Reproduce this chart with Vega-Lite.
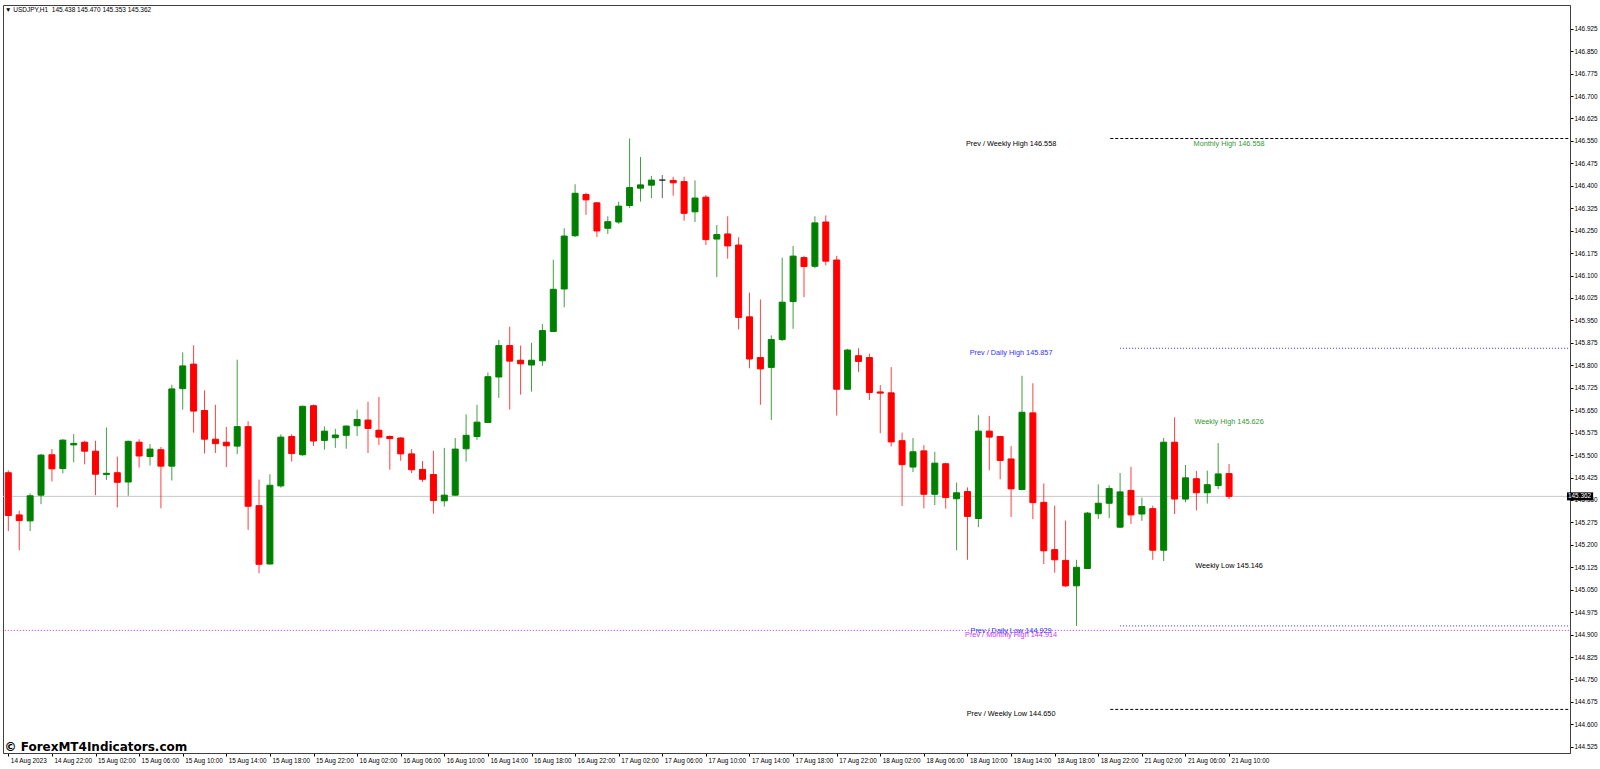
{
  "$schema": "https://vega.github.io/schema/vega-lite/v6.json",
  "width": 1567,
  "height": 748,
  "autosize": {"type": "none"},
  "padding": {"left": 3, "top": 5, "right": 30, "bottom": 16},
  "background": "#ffffff",
  "config": {"view": {"stroke": "#404040", "strokeWidth": 1}},
  "title": {"text": "▼ USDJPY,H1\u00a0 145.438 145.470 145.353 145.362", "anchor": "start", "frame": "group", "offset": -8, "dx": 2, "font": "Liberation Sans", "fontSize": 6.5, "fontWeight": "normal", "color": "#000000"},
  "datasets": {
    "candles": [
      {"t":0,"o":145.441,"h":145.449,"l":145.246,"c":145.298},
      {"t":1,"o":145.300,"h":145.314,"l":145.182,"c":145.281},
      {"t":2,"o":145.280,"h":145.372,"l":145.246,"c":145.364},
      {"t":3,"o":145.366,"h":145.504,"l":145.336,"c":145.500},
      {"t":4,"o":145.501,"h":145.520,"l":145.412,"c":145.454},
      {"t":5,"o":145.455,"h":145.553,"l":145.439,"c":145.550},
      {"t":6,"o":145.534,"h":145.570,"l":145.476,"c":145.539},
      {"t":7,"o":145.543,"h":145.548,"l":145.469,"c":145.513},
      {"t":8,"o":145.513,"h":145.548,"l":145.366,"c":145.436},
      {"t":9,"o":145.435,"h":145.592,"l":145.417,"c":145.439},
      {"t":10,"o":145.441,"h":145.495,"l":145.325,"c":145.409},
      {"t":11,"o":145.410,"h":145.548,"l":145.364,"c":145.546},
      {"t":12,"o":145.543,"h":145.553,"l":145.458,"c":145.497},
      {"t":13,"o":145.495,"h":145.537,"l":145.465,"c":145.520},
      {"t":14,"o":145.518,"h":145.527,"l":145.322,"c":145.463},
      {"t":15,"o":145.463,"h":145.735,"l":145.415,"c":145.721},
      {"t":16,"o":145.722,"h":145.843,"l":145.652,"c":145.798},
      {"t":17,"o":145.804,"h":145.867,"l":145.575,"c":145.647},
      {"t":18,"o":145.649,"h":145.716,"l":145.505,"c":145.553},
      {"t":19,"o":145.553,"h":145.668,"l":145.507,"c":145.538},
      {"t":20,"o":145.543,"h":145.594,"l":145.460,"c":145.531},
      {"t":21,"o":145.530,"h":145.819,"l":145.503,"c":145.595},
      {"t":22,"o":145.595,"h":145.613,"l":145.250,"c":145.329},
      {"t":23,"o":145.331,"h":145.418,"l":145.105,"c":145.135},
      {"t":24,"o":145.136,"h":145.436,"l":145.134,"c":145.399},
      {"t":25,"o":145.397,"h":145.569,"l":145.391,"c":145.560},
      {"t":26,"o":145.562,"h":145.570,"l":145.478,"c":145.505},
      {"t":27,"o":145.501,"h":145.665,"l":145.498,"c":145.663},
      {"t":28,"o":145.665,"h":145.669,"l":145.530,"c":145.547},
      {"t":29,"o":145.549,"h":145.596,"l":145.518,"c":145.580},
      {"t":30,"o":145.558,"h":145.588,"l":145.524,"c":145.567},
      {"t":31,"o":145.566,"h":145.599,"l":145.521,"c":145.597},
      {"t":32,"o":145.598,"h":145.652,"l":145.564,"c":145.619},
      {"t":33,"o":145.617,"h":145.678,"l":145.507,"c":145.589},
      {"t":34,"o":145.583,"h":145.694,"l":145.534,"c":145.560},
      {"t":35,"o":145.562,"h":145.566,"l":145.451,"c":145.555},
      {"t":36,"o":145.557,"h":145.560,"l":145.481,"c":145.504},
      {"t":37,"o":145.504,"h":145.520,"l":145.440,"c":145.451},
      {"t":38,"o":145.452,"h":145.480,"l":145.410,"c":145.419},
      {"t":39,"o":145.435,"h":145.514,"l":145.304,"c":145.348},
      {"t":40,"o":145.347,"h":145.524,"l":145.328,"c":145.366},
      {"t":41,"o":145.366,"h":145.557,"l":145.364,"c":145.520},
      {"t":42,"o":145.521,"h":145.636,"l":145.478,"c":145.566},
      {"t":43,"o":145.562,"h":145.668,"l":145.551,"c":145.610},
      {"t":44,"o":145.609,"h":145.776,"l":145.608,"c":145.762},
      {"t":45,"o":145.761,"h":145.885,"l":145.691,"c":145.866},
      {"t":46,"o":145.866,"h":145.929,"l":145.652,"c":145.814},
      {"t":47,"o":145.817,"h":145.866,"l":145.702,"c":145.805},
      {"t":48,"o":145.801,"h":145.875,"l":145.712,"c":145.817},
      {"t":49,"o":145.815,"h":145.938,"l":145.798,"c":145.916},
      {"t":50,"o":145.913,"h":146.153,"l":145.912,"c":146.054},
      {"t":51,"o":146.055,"h":146.258,"l":145.994,"c":146.232},
      {"t":52,"o":146.233,"h":146.405,"l":146.229,"c":146.375},
      {"t":53,"o":146.371,"h":146.377,"l":146.303,"c":146.353},
      {"t":54,"o":146.343,"h":146.346,"l":146.229,"c":146.249},
      {"t":55,"o":146.258,"h":146.298,"l":146.239,"c":146.280},
      {"t":56,"o":146.279,"h":146.347,"l":146.273,"c":146.332},
      {"t":57,"o":146.334,"h":146.558,"l":146.326,"c":146.394},
      {"t":58,"o":146.392,"h":146.496,"l":146.347,"c":146.403},
      {"t":59,"o":146.402,"h":146.433,"l":146.359,"c":146.419},
      {"t":60,"o":146.419,"h":146.436,"l":146.359,"c":146.419},
      {"t":61,"o":146.418,"h":146.430,"l":146.367,"c":146.410},
      {"t":62,"o":146.414,"h":146.430,"l":146.283,"c":146.308},
      {"t":63,"o":146.313,"h":146.418,"l":146.279,"c":146.359},
      {"t":64,"o":146.362,"h":146.369,"l":146.202,"c":146.220},
      {"t":65,"o":146.222,"h":146.269,"l":146.095,"c":146.237},
      {"t":66,"o":146.239,"h":146.298,"l":146.156,"c":146.199},
      {"t":67,"o":146.202,"h":146.228,"l":145.920,"c":145.960},
      {"t":68,"o":145.962,"h":146.043,"l":145.790,"c":145.821},
      {"t":69,"o":145.826,"h":146.020,"l":145.668,"c":145.788},
      {"t":70,"o":145.793,"h":145.900,"l":145.617,"c":145.886},
      {"t":71,"o":145.886,"h":146.160,"l":145.881,"c":146.011},
      {"t":72,"o":146.013,"h":146.199,"l":145.922,"c":146.165},
      {"t":73,"o":146.160,"h":146.166,"l":146.028,"c":146.130},
      {"t":74,"o":146.131,"h":146.298,"l":146.125,"c":146.276},
      {"t":75,"o":146.279,"h":146.301,"l":146.134,"c":146.148},
      {"t":76,"o":146.152,"h":146.166,"l":145.632,"c":145.720},
      {"t":77,"o":145.720,"h":145.855,"l":145.719,"c":145.851},
      {"t":78,"o":145.832,"h":145.857,"l":145.778,"c":145.813},
      {"t":79,"o":145.826,"h":145.839,"l":145.684,"c":145.709},
      {"t":80,"o":145.711,"h":145.734,"l":145.573,"c":145.707},
      {"t":81,"o":145.708,"h":145.794,"l":145.529,"c":145.544},
      {"t":82,"o":145.548,"h":145.575,"l":145.330,"c":145.468},
      {"t":83,"o":145.460,"h":145.557,"l":145.443,"c":145.511},
      {"t":84,"o":145.514,"h":145.533,"l":145.322,"c":145.369},
      {"t":85,"o":145.369,"h":145.511,"l":145.333,"c":145.473},
      {"t":86,"o":145.471,"h":145.474,"l":145.321,"c":145.358},
      {"t":87,"o":145.354,"h":145.408,"l":145.182,"c":145.374},
      {"t":88,"o":145.378,"h":145.392,"l":145.150,"c":145.295},
      {"t":89,"o":145.288,"h":145.633,"l":145.259,"c":145.580},
      {"t":90,"o":145.580,"h":145.631,"l":145.449,"c":145.560},
      {"t":91,"o":145.562,"h":145.564,"l":145.419,"c":145.482},
      {"t":92,"o":145.487,"h":145.530,"l":145.293,"c":145.387},
      {"t":93,"o":145.385,"h":145.765,"l":145.382,"c":145.643},
      {"t":94,"o":145.641,"h":145.740,"l":145.286,"c":145.341},
      {"t":95,"o":145.342,"h":145.405,"l":145.136,"c":145.180},
      {"t":96,"o":145.184,"h":145.331,"l":145.107,"c":145.150},
      {"t":97,"o":145.148,"h":145.281,"l":145.059,"c":145.063},
      {"t":98,"o":145.063,"h":145.150,"l":144.929,"c":145.125},
      {"t":99,"o":145.121,"h":145.310,"l":145.120,"c":145.306},
      {"t":100,"o":145.304,"h":145.402,"l":145.286,"c":145.339},
      {"t":101,"o":145.339,"h":145.399,"l":145.289,"c":145.388},
      {"t":102,"o":145.259,"h":145.440,"l":145.257,"c":145.377},
      {"t":103,"o":145.382,"h":145.461,"l":145.270,"c":145.300},
      {"t":104,"o":145.303,"h":145.358,"l":145.280,"c":145.328},
      {"t":105,"o":145.321,"h":145.331,"l":145.150,"c":145.182},
      {"t":106,"o":145.182,"h":145.557,"l":145.146,"c":145.543},
      {"t":107,"o":145.543,"h":145.626,"l":145.303,"c":145.353},
      {"t":108,"o":145.353,"h":145.467,"l":145.342,"c":145.424},
      {"t":109,"o":145.421,"h":145.447,"l":145.315,"c":145.374},
      {"t":110,"o":145.374,"h":145.448,"l":145.338,"c":145.401},
      {"t":111,"o":145.398,"h":145.540,"l":145.386,"c":145.437},
      {"t":112,"o":145.438,"h":145.470,"l":145.353,"c":145.362}
    ],
    "levels": [
      {"kind":"Bid","price":145.362,"t":-5,"t2":150},
      {"kind":"Prev Monthly","price":144.914,"t":-5,"t2":150},
      {"kind":"Prev Weekly","price":146.558,"t":101.1,"t2":150},
      {"kind":"Prev Weekly","price":144.650,"t":101.1,"t2":150},
      {"kind":"Prev Daily","price":145.857,"t":102,"t2":150},
      {"kind":"Prev Daily","price":144.929,"t":102,"t2":150}
    ],
    "labels": [
      {"kind":"Prev Weekly","text":"Prev / Weekly High 146.558","price":146.558,"t":92},
      {"kind":"Current High","text":"Monthly High 146.558","price":146.558,"t":112},
      {"kind":"Prev Daily","text":"Prev / Daily High 145.857","price":145.857,"t":92},
      {"kind":"Current High","text":"Weekly High 145.626","price":145.626,"t":112},
      {"kind":"Current Low","text":"Weekly Low 145.146","price":145.146,"t":112},
      {"kind":"Prev Monthly","text":"Prev / Monthly High 144.914","price":144.914,"t":92},
      {"kind":"Prev Daily","text":"Prev / Daily Low 144.929","price":144.929,"t":92},
      {"kind":"Prev Weekly","text":"Prev / Weekly Low 144.650","price":144.650,"t":92}
    ]
  },
  "layer": [
    {
      "data": {"name": "levels"},
      "mark": {"type": "rule", "strokeWidth": 1, "clip": true},
      "encoding": {
        "x": {"field": "t", "type": "quantitative", "scale": {"domain": [-0.03, 142.82], "nice": false, "zero": false},
          "axis": {"values": [0,4,8,12,16,20,24,28,32,36,40,44,48,52,56,60,64,68,72,76,80,84,88,92,96,100,104,108,112],
            "tickCount": 60,
            "labelExpr": "datum.value == 0 ? '14 Aug 2023' : ((datum.value < 102 ? ((14 + floor((datum.value + 18) / 24)) + ' Aug ' + (((datum.value + 18) % 24) < 10 ? '0' : '') + ((datum.value + 18) % 24)) : ('21 Aug ' + ((datum.value - 102) < 10 ? '0' : '') + (datum.value - 102))) + ':00')",
            "title": "© ForexMT4Indicators.com", "grid": false, "tickSize": 3, "tickColor": "#000000", "domainColor": "#404040",
            "labelAlign": "left", "labelBaseline": "top", "labelOffset": 2, "labelPadding": 1, "labelFont": "Liberation Sans", "labelFontSize": 6.4, "labelColor": "#000000",
            "labelOverlap": false, "labelFlush": false, "labelBound": false,
            "titleFont": "DejaVu Sans", "titleFontSize": 12, "titleFontWeight": "bold", "titleColor": "#000000", "titleAnchor": "start", "titleAlign": "left", "titleBaseline": "middle", "titleX": 1, "titleY": -7}},
        "x2": {"field": "t2"},
        "y": {"field": "price", "type": "quantitative", "scale": {"domain": [144.521, 146.9875], "nice": false, "zero": false},
          "axis": {"orient": "right", "values": [146.925,146.85,146.775,146.7,146.625,146.55,146.475,146.4,146.325,146.25,146.175,146.1,146.025,145.95,145.875,145.8,145.725,145.65,145.575,145.5,145.425,145.35,145.275,145.2,145.125,145.05,144.975,144.9,144.825,144.75,144.675,144.6,144.525],
            "tickCount": 60,
            "format": ".3f", "title": null, "grid": false, "tickSize": 3, "tickColor": "#000000", "domainColor": "#404040", "labelPadding": 1,
            "labelFont": "Liberation Sans", "labelFontSize": 6.4, "labelColor": "#000000", "labelOverlap": false, "labelFlush": false, "labelBound": false}},
        "color": {"field": "kind", "type": "nominal", "legend": null,
          "scale": {"domain": ["Prev Weekly","Prev Daily","Prev Monthly","Bid","Current High","Current Low"], "range": ["#000000","#3333ff","#cc33ff","#c0c0c0","#339933","#000000"]}},
        "strokeDash": {"field": "kind", "type": "nominal", "legend": null,
          "scale": {"domain": ["Prev Weekly","Prev Daily","Prev Monthly","Bid"], "range": [[3,2],[1,2],[1,2],[1,0]]}}
      }
    },
    {
      "data": {"name": "candles"},
      "mark": {"type": "rule", "strokeWidth": 1, "opacity": 0.75, "clip": true},
      "encoding": {
        "x": {"field": "t", "type": "quantitative", "scale": {"domain": [-0.03, 142.82], "nice": false, "zero": false}},
        "y": {"field": "l", "type": "quantitative", "scale": {"domain": [144.521, 146.9875], "nice": false, "zero": false}},
        "y2": {"field": "h"},
        "stroke": {"condition": [{"test": "datum.c > datum.o", "value": "#008000"}, {"test": "datum.c == datum.o", "value": "#303030"}], "value": "#ff0000"}
      }
    },
    {
      "data": {"name": "candles"},
      "mark": {"type": "bar", "width": 6, "strokeWidth": 1, "clip": true},
      "encoding": {
        "x": {"field": "t", "type": "quantitative", "scale": {"domain": [-0.03, 142.82], "nice": false, "zero": false}},
        "y": {"field": "o", "type": "quantitative", "scale": {"domain": [144.521, 146.9875], "nice": false, "zero": false}},
        "y2": {"field": "c"},
        "fill": {"condition": [{"test": "datum.c > datum.o", "value": "#008000"}, {"test": "datum.c == datum.o", "value": "#303030"}], "value": "#ff0000"},
        "stroke": {"condition": [{"test": "datum.c > datum.o", "value": "#008000"}, {"test": "datum.c == datum.o", "value": "#303030"}], "value": "#ff0000"}
      }
    },
    {
      "data": {"name": "labels"},
      "mark": {"type": "text", "align": "center", "baseline": "top", "dy": 1, "font": "Liberation Sans", "fontSize": 7.3},
      "encoding": {
        "x": {"field": "t", "type": "quantitative", "scale": {"domain": [-0.03, 142.82], "nice": false, "zero": false}},
        "y": {"field": "price", "type": "quantitative", "scale": {"domain": [144.521, 146.9875], "nice": false, "zero": false}},
        "text": {"field": "text"},
        "color": {"field": "kind", "type": "nominal", "legend": null,
          "scale": {"domain": ["Prev Weekly","Prev Daily","Prev Monthly","Bid","Current High","Current Low"], "range": ["#000000","#3333ff","#cc33ff","#c0c0c0","#339933","#000000"]}}
      }
    },
    {
      "data": {"name": "levels"},
      "transform": [{"filter": "datum.kind == 'Bid'"}],
      "mark": {"type": "bar", "orient": "horizontal", "size": 8, "color": "#000000"},
      "encoding": {
        "x": {"datum": 143.0, "type": "quantitative", "scale": {"domain": [-0.03, 142.82], "nice": false, "zero": false}},
        "x2": {"datum": 145.4},
        "y": {"field": "price", "type": "quantitative", "scale": {"domain": [144.521, 146.9875], "nice": false, "zero": false}}
      }
    },
    {
      "data": {"name": "levels"},
      "transform": [{"filter": "datum.kind == 'Bid'"}],
      "mark": {"type": "text", "align": "left", "baseline": "middle", "dx": 1, "font": "Liberation Sans", "fontSize": 6.4, "color": "#ffffff"},
      "encoding": {
        "x": {"datum": 143.0, "type": "quantitative", "scale": {"domain": [-0.03, 142.82], "nice": false, "zero": false}},
        "y": {"field": "price", "type": "quantitative", "scale": {"domain": [144.521, 146.9875], "nice": false, "zero": false}},
        "text": {"field": "price", "type": "quantitative", "format": ".3f"}
      }
    }
  ]
}
